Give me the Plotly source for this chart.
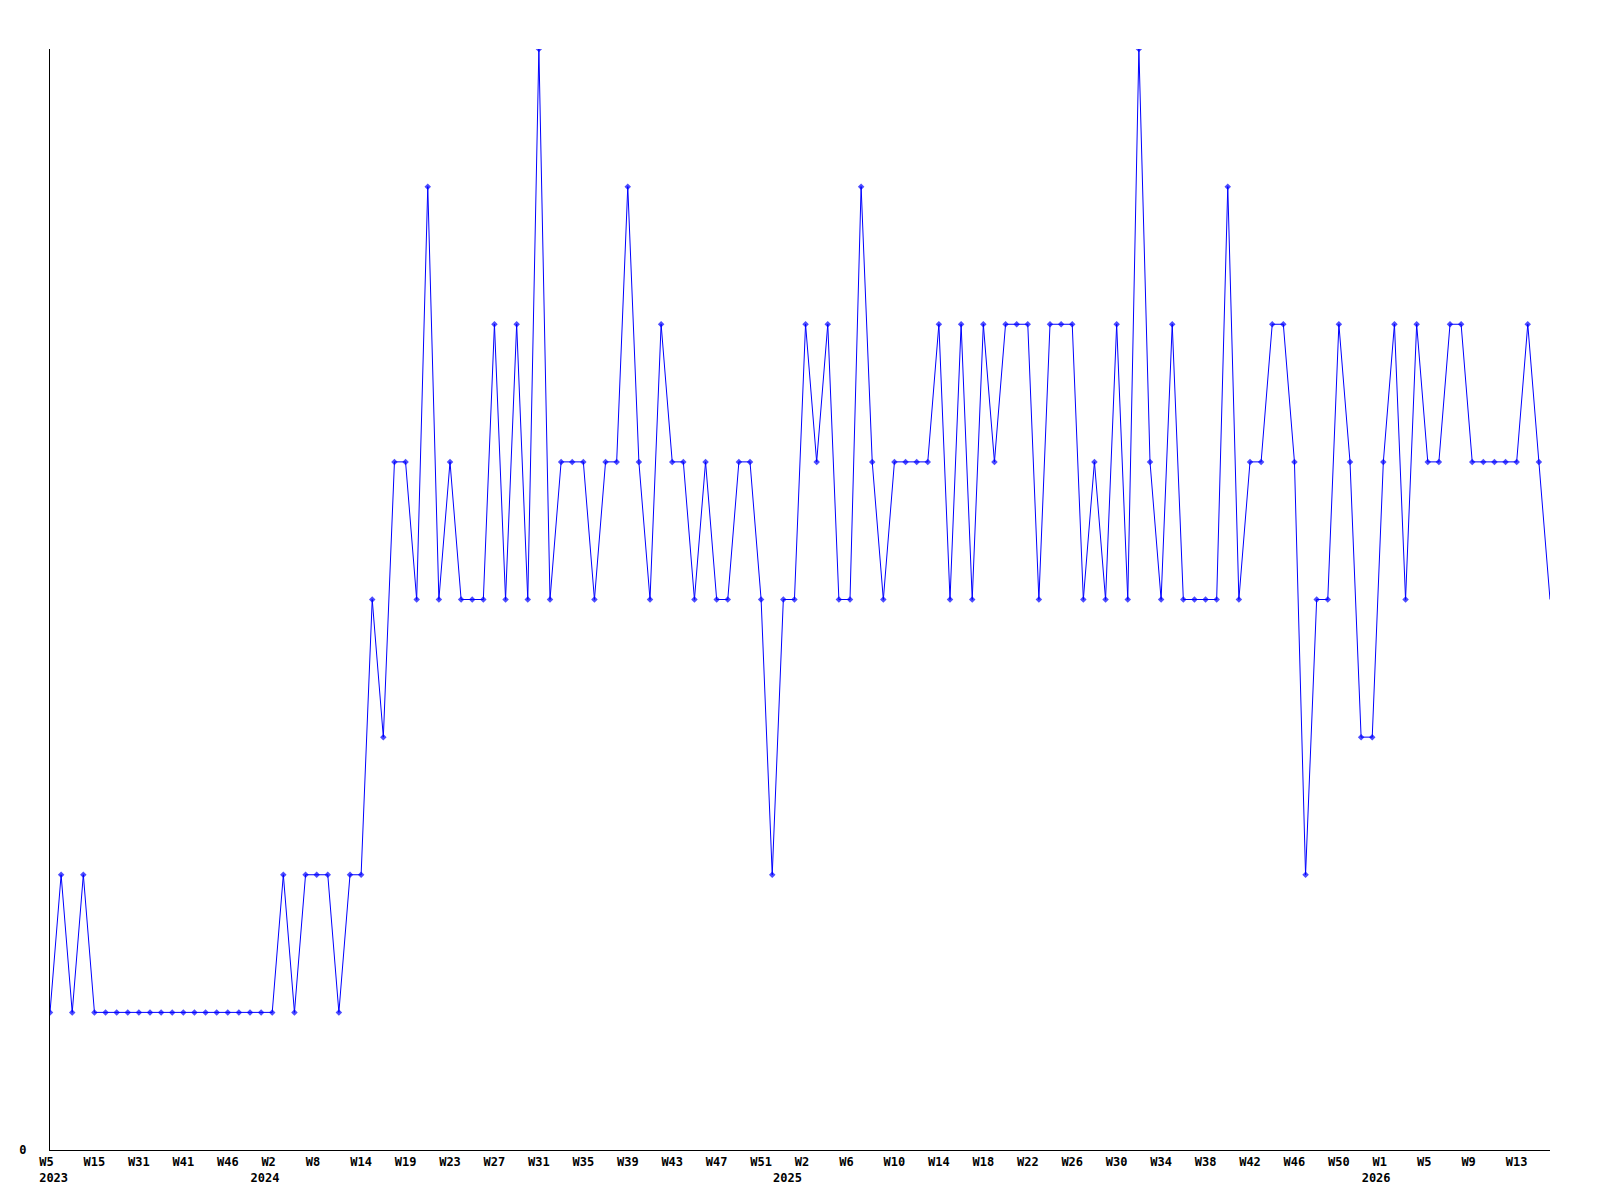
import plotly.graph_objects as go

# Weekly values (one per point, evenly spaced categories)
values = [
    1, 2, 1, 2, 1, 1, 1, 1, 1, 1, 1, 1, 1, 1, 1, 1, 1, 1, 1, 1, 1,
    2, 1, 2, 2, 2, 1, 2, 2, 4, 3, 5, 5, 4, 7, 4, 5, 4, 4, 4, 6, 4, 6, 4, 8,
    4, 5, 5, 5, 4, 5, 5, 7, 5, 4, 6, 5, 5, 4, 5, 4, 4, 5, 5, 4, 2, 4, 4,
    6, 5, 6, 4, 4, 7, 5, 4, 5, 5, 5, 5, 6, 4, 6, 4, 6, 5, 6, 6, 6, 4, 6,
    6, 6, 4, 5, 4, 6, 4, 8, 5, 4, 6, 4, 4, 4, 4, 7, 4, 5, 5, 6, 6, 5, 2,
    4, 4, 6, 5, 3, 3, 5, 6, 4, 6, 5, 5, 6, 6, 5, 5, 5, 5, 5, 6, 5, 4,
]

# Tick labels: week label at every 4th point, with the year on a second line
week_labels = [
    "W5", "W15", "W31", "W41", "W46", "W2", "W8", "W14", "W19", "W23", "W27",
    "W31", "W35", "W39", "W43", "W47", "W51", "W2", "W6", "W10", "W14", "W18",
    "W22", "W26", "W30", "W34", "W38", "W42", "W46", "W50", "W1", "W5", "W9",
    "W13",
]
year_labels = {0: "2023", 5: "2024", 17: "2025", 30: "2026"}
tick_step = 4

NB = "\u00a0"
# small nbsp paddings emulate the left-aligned labels of the original
year_pad = {0: (1, 0), 5: (0, 2), 17: (0, 5), 30: (0, 2)}

x = list(range(len(values)))
tickvals = [i * tick_step for i in range(len(week_labels))]
ticktext = []
for i, w in enumerate(week_labels):
    t = w + NB * max(0, 3 - len(w))
    if i in year_labels:
        lp, rp = year_pad[i]
        t += "<br>" + NB * lp + year_labels[i] + NB * rp
    ticktext.append(t)

sizes = [5] * (len(values) - 1) + [0]

fig = go.Figure(
    go.Scatter(
        x=x,
        y=values,
        mode="lines+markers",
        line=dict(color="#0000ff", width=1),
        marker=dict(symbol="diamond", size=sizes, color="#0000ff", line=dict(width=0)),
        hoverinfo="x+y",
    )
)

font = dict(family="DejaVu Sans Mono", size=12, color="#000000", weight="bold")

# page body has an 8px margin, so the figure is sized/offset to compensate
fig.update_layout(
    width=1584,
    height=1184,
    margin=dict(l=42, r=42, t=41, b=42),
    paper_bgcolor="#ffffff",
    plot_bgcolor="#ffffff",
    showlegend=False,
    font=font,
)
fig.update_xaxes(
    range=[0, len(values) - 1],
    tickvals=tickvals,
    ticktext=ticktext,
    showgrid=False,
    zeroline=False,
    showline=True,
    linecolor="#000000",
    linewidth=1,
    ticks="",
    tickangle=0,
    tickfont=font,
    ticklabelstandoff=1,
    automargin=False,
)
fig.update_yaxes(
    range=[0, 8],
    tickvals=[0],
    ticktext=["0"],
    showgrid=False,
    zeroline=False,
    showline=True,
    linecolor="#000000",
    linewidth=1,
    ticks="",
    tickfont=font,
    ticklabelstandoff=20,
    automargin=False,
)

fig.write_html("out.html")
